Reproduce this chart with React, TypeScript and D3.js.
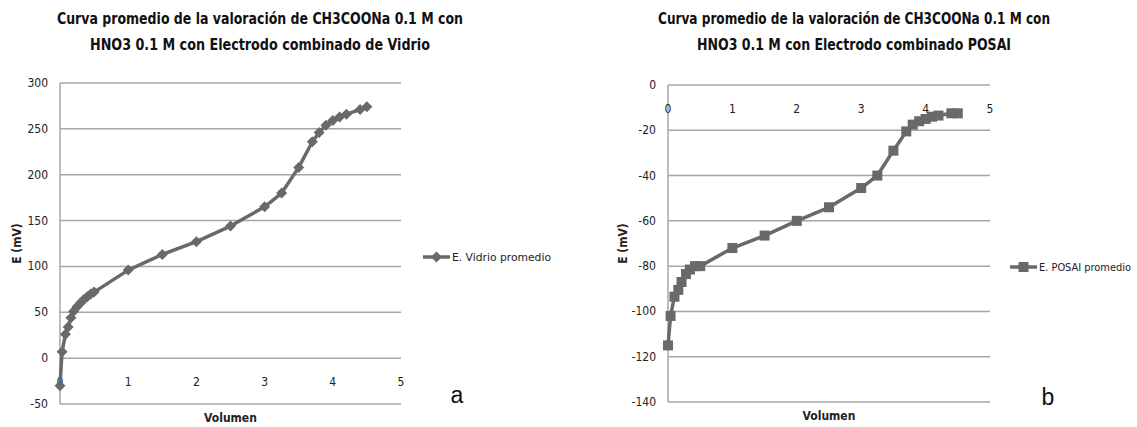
import React from "react";
import * as d3 from "d3";

// Electrodo de vidrio (a)
const vidrioVol = [0, 0.03, 0.08, 0.12, 0.16, 0.2, 0.25, 0.3, 0.35, 0.4, 0.45, 0.5, 1, 1.5, 2, 2.5, 3, 3.25, 3.5, 3.7, 3.8, 3.9, 4.0, 4.1, 4.2, 4.4, 4.5];
const vidrioE = [-30, 7, 26, 34, 44, 51, 56, 60, 64, 67, 70, 72, 96, 113, 127, 144, 165, 180, 208, 236, 246, 254, 259, 263, 266, 271, 274];

// Electrodo POSAI (b)
const posaiVol = [0, 0.04, 0.1, 0.16, 0.21, 0.28, 0.34, 0.42, 0.5, 1, 1.5, 2, 2.5, 3, 3.25, 3.5, 3.7, 3.8, 3.9, 4.0, 4.1, 4.2, 4.4, 4.5];
const posaiE = [-115, -102, -93.5, -90.5, -87, -83.5, -81.5, -80, -80, -72, -66.5, -60, -54, -45.5, -40, -29, -20.5, -17.5, -16, -15, -14, -13.5, -12.5, -12.5];

const xTicks = [0, 1, 2, 3, 4, 5];
const vidrioYTicks = [-50, 0, 50, 100, 150, 200, 250, 300];
const posaiYTicks = [-140, -120, -100, -80, -60, -40, -20, 0];

const GRID = "#a6a6a6";
const LINE = "#696969";
const FONT = "'Liberation Sans Narrow', 'DejaVu Sans Condensed', 'Open Sans', sans-serif";

type PanelProps = {
  vol: number[];
  e: number[];
  yTicks: number[];
  marker: "diamond" | "square";
  left: number;
  right: number;
  top: number;
  bottom: number;
  title: string[];
  titleX: number;
  titleW: number[];
  legend: string;
  legendX: number;
  legendY: number;
  legendW: number;
  yTitleX: number;
  letter: string;
  letterX: number;
  letterY: number;
};

function Marker({ type, x, y }: { type: "diamond" | "square"; x: number; y: number }) {
  if (type === "diamond") {
    const r = 5.5;
    return <path d={`M${x},${y - r}L${x + r},${y}L${x},${y + r}L${x - r},${y}Z`} fill={LINE} />;
  }
  return <rect x={x - 5} y={y - 5} width={10} height={10} fill={LINE} />;
}

function Panel(p: PanelProps) {
  const x = d3.scaleLinear().domain([0, 5]).range([p.left, p.right]);
  const y = d3
    .scaleLinear()
    .domain(d3.extent(p.yTicks) as [number, number])
    .range([p.bottom, p.top]);
  const pts = p.vol.map((v, i) => [x(v), y(p.e[i])] as [number, number]);
  const line = d3.line();
  const zeroY = y(0);

  return (
    <g fontFamily={FONT}>
      {p.title.map((t, i) => (
        <text
          key={i}
          x={p.titleX}
          y={24 + i * 26}
          textAnchor="middle"
          fontWeight="bold"
          fontSize={16}
          textLength={p.titleW[i]}
          lengthAdjust="spacingAndGlyphs"
          fill="#111"
        >
          {t}
        </text>
      ))}

      {p.yTicks.map((t) => (
        <g key={t}>
          <line x1={p.left} x2={p.right} y1={y(t)} y2={y(t)} stroke={GRID} strokeWidth={1.5} />
          <text x={p.left - 12} y={y(t) + 4} textAnchor="end" fontSize={12} fill="#222">
            {t}
          </text>
        </g>
      ))}
      <line x1={p.left} x2={p.left} y1={p.top} y2={p.bottom} stroke={GRID} strokeWidth={1.5} />

      {xTicks.map((t) => (
        <text key={t} x={x(t)} y={zeroY + 28} textAnchor="middle" fontSize={12} fill="#222">
          {t}
        </text>
      ))}

      <path d={line(pts) ?? ""} fill="none" stroke={LINE} strokeWidth={3.5} strokeLinejoin="round" />
      {pts.map(([px, py], i) => (
        <Marker key={i} type={p.marker} x={px} y={py} />
      ))}

      <text
        transform={`translate(${p.yTitleX},${(p.top + p.bottom) / 2}) rotate(-90)`}
        textAnchor="middle"
        fontWeight="bold"
        fontSize={12}
        fill="#222"
      >
        E (mV)
      </text>
      <text x={(p.left + p.right) / 2} y={p.bottom + 18} textAnchor="middle" fontWeight="bold" fontSize={12} fill="#222">
        Volumen
      </text>

      <line x1={p.legendX} x2={p.legendX + 27} y1={p.legendY} y2={p.legendY} stroke={LINE} strokeWidth={3.5} />
      <Marker type={p.marker} x={p.legendX + 13.5} y={p.legendY} />
      <text
        x={p.legendX + 29}
        y={p.legendY + 4}
        fontSize={11}
        fill="#222"
        textLength={p.legendW}
        lengthAdjust="spacingAndGlyphs"
      >
        {p.legend}
      </text>

      <text x={p.letterX} y={p.letterY} textAnchor="middle" fontSize={23} fontFamily="'Liberation Sans', Arial, sans-serif" fill="#111">
        {p.letter}
      </text>
    </g>
  );
}

export default function App() {
  return (
    <svg
      width={1137}
      height={427}
      style={{ position: "absolute", left: 0, top: 0, background: "#fff" }}
    >
      <Panel
        vol={vidrioVol}
        e={vidrioE}
        yTicks={vidrioYTicks}
        marker="diamond"
        left={60}
        right={401}
        top={83}
        bottom={404}
        title={["Curva promedio de la valoración de CH3COONa 0.1 M con", "HNO3 0.1 M con Electrodo combinado de Vidrio"]}
        titleX={260}
        titleW={[406, 340]}
        legend="E. Vidrio promedio"
        legendX={423}
        legendY={257}
        legendW={99}
        yTitleX={21}
        letter="a"
        letterX={457}
        letterY={403}
      />
      <Panel
        vol={posaiVol}
        e={posaiE}
        yTicks={posaiYTicks}
        marker="square"
        left={668}
        right={990}
        top={85}
        bottom={402}
        title={["Curva promedio de la valoración de CH3COONa 0.1 M con", "HNO3 0.1 M  con Electrodo combinado POSAI"]}
        titleX={854}
        titleW={[392, 314]}
        legend="E. POSAI promedio"
        legendX={1010}
        legendY={267}
        legendW={92}
        yTitleX={627}
        letter="b"
        letterX={1048}
        letterY={405}
      />
    </svg>
  );
}
